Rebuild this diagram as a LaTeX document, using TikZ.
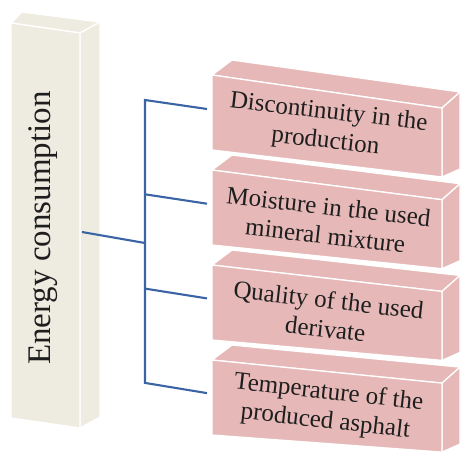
\documentclass[tikz,border=0pt]{standalone}
\usepackage{fontspec}
\setmainfont{Liberation Serif}
\definecolor{pinkf}{HTML}{E6B9B8}
\definecolor{beigef}{HTML}{EEECE1}
\definecolor{connc}{HTML}{3A64A4}
\definecolor{txtc}{HTML}{1E1E1E}
\begin{document}
\begin{tikzpicture}[x=1pt,y=-1pt,
  face/.style={draw=white, line width=1.3pt, line join=round},
  conn/.style={draw=connc, line width=2.1pt},
  boxtext/.style={text=txtc, align=center, font=\fontsize{25}{29}\selectfont, rotate=-6.5, inner sep=0pt},
  maintext/.style={text=txtc, font=\fontsize{33}{38}\selectfont, rotate=90, inner sep=0pt}]
\useasboundingbox (0,0) rectangle (462,459);
% left tall box
\draw[face, fill=beigef] (11,23) -- (22,12) -- (100,22) -- (80,33) -- cycle;
\draw[face, fill=beigef] (80,33) -- (100,22) -- (100,417) -- (80,428) -- cycle;
\draw[face, fill=beigef] (11,23) -- (80,33) -- (80,428) -- (11,418) -- cycle;
\node[maintext] (energy) at (43,228) {Energy consumption};
% pink boxes, drawn from bottom to top
\foreach \k/\txt in {3/{Temperature of the\\produced asphalt},
                     2/{Quality of the used\\derivate},
                     1/{Moisture in the used\\mineral mixture},
                     0/{Discontinuity in the\\production}} {
  \pgfmathsetmacro\tl{75+95*\k}
  \pgfmathsetmacro\bl{150+95*\k}
  \pgfmathsetmacro\tr{108+91.7*\k}
  \pgfmathsetmacro\br{177+91.7*\k}
  \draw[face, fill=pinkf] (212,\tl) -- (232,\tl-15) -- (460,\tr-16) -- (442,\tr) -- cycle;
  \draw[face, fill=pinkf] (442,\tr) -- (460,\tr-16) -- (460,\br-8) -- (442,\br) -- cycle;
  \draw[face, fill=pinkf] (212,\tl) -- (442,\tr) -- (442,\br) -- (212,\bl) -- cycle;
  \node[boxtext] (t\k) at (327,{(\tl+\bl+\tr+\br)/4}) {\txt};
}
% connectors
\coordinate (src) at (82,232);
\coordinate (hub) at (145,243);
\foreach \k in {0,1,2,3} {
  \coordinate (j\k) at (145,{100+94.3*\k});
  \coordinate (e\k) at (207,{109+94.7*\k});
}
\draw[conn] (e0) -- (j0) -- (j3) -- (e3);
\draw[conn] (j1) -- (e1);
\draw[conn] (j2) -- (e2);
\draw[conn] (src) -- (hub);
\end{tikzpicture}
\end{document}
